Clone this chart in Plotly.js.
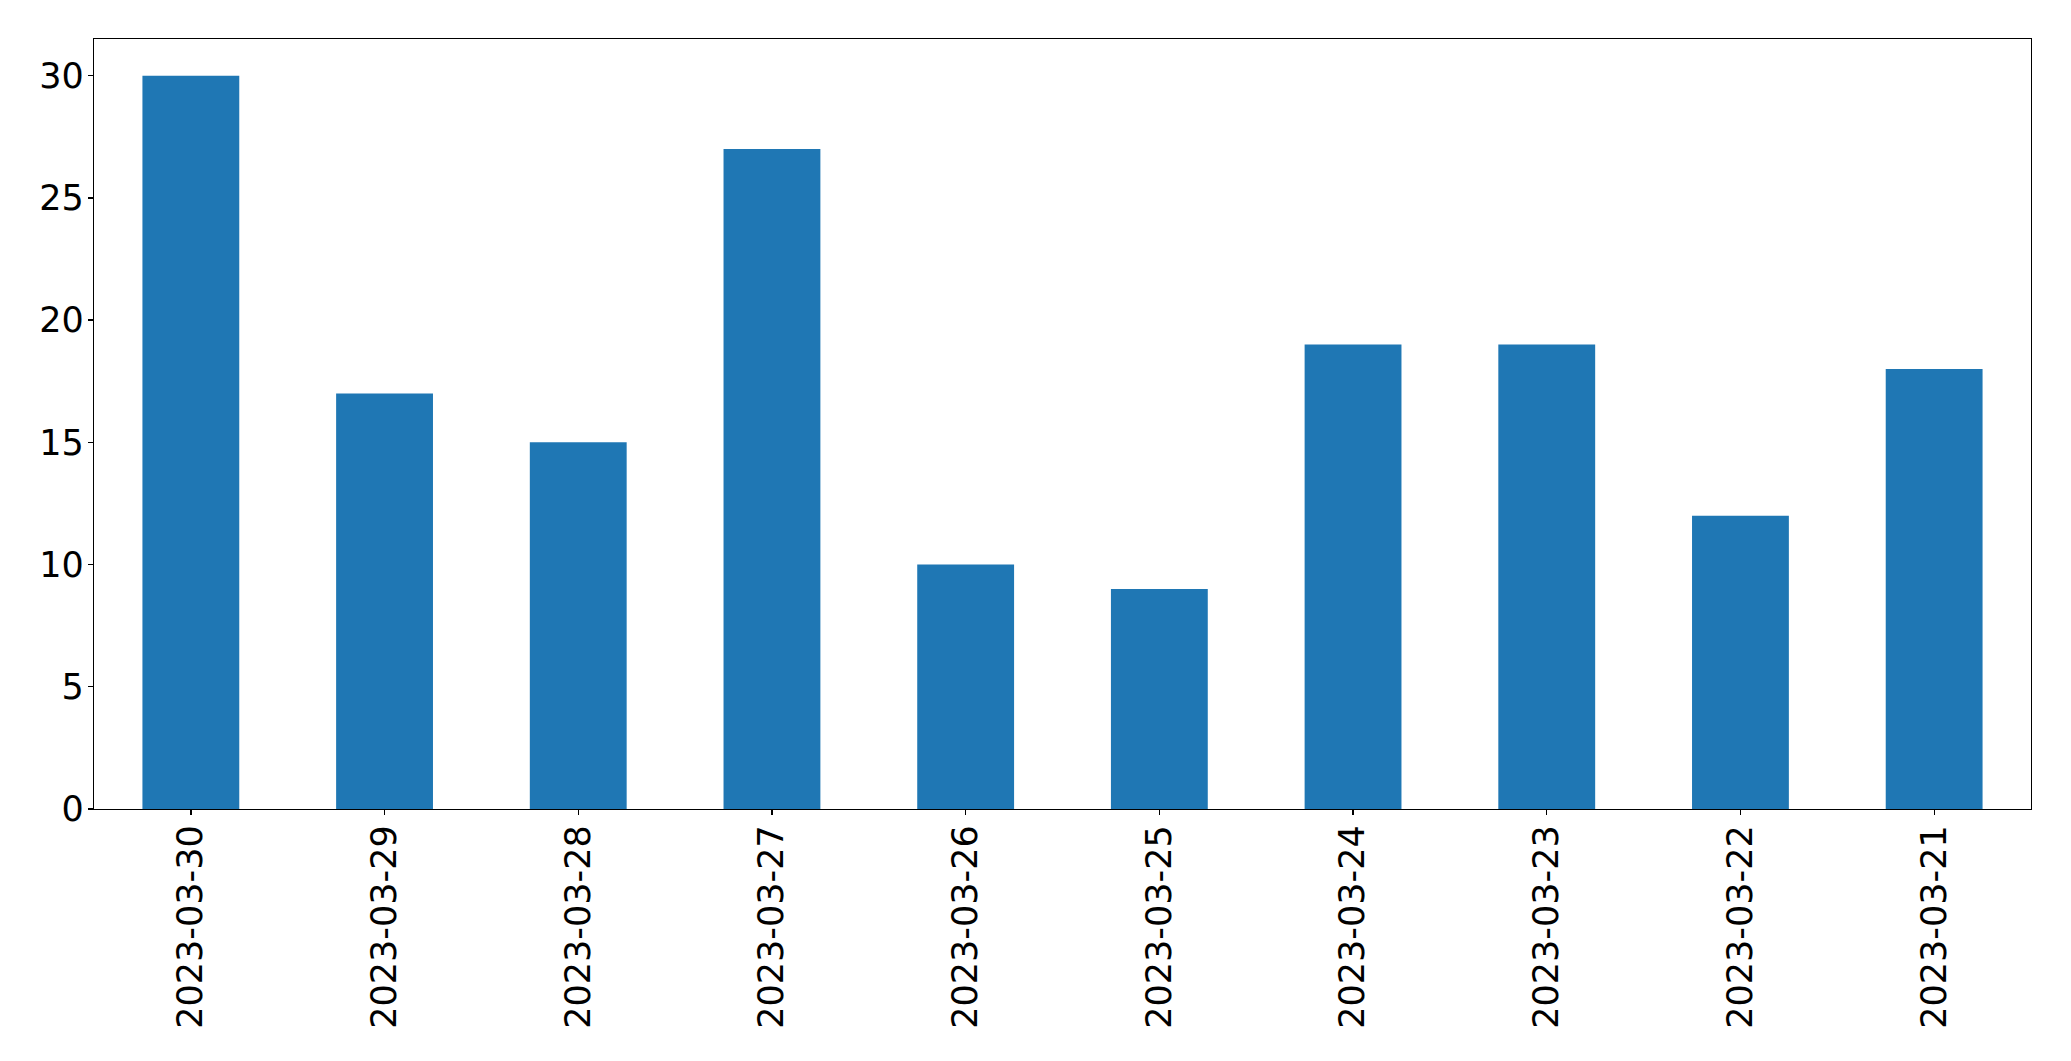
<!DOCTYPE html>
<html>
<head>
<meta charset="utf-8">
<script src="https://cdn.plot.ly/plotly-3.0.1.min.js"></script>
<style>html,body{margin:0;padding:0;background:#fff;}#chart{width:2071px;height:1061px;}</style>
</head>
<body>
<div id="chart"></div>
<script>
const dates = ["2023-03-30","2023-03-29","2023-03-28","2023-03-27","2023-03-26","2023-03-25","2023-03-24","2023-03-23","2023-03-22","2023-03-21"];
const counts = [30, 17, 15, 27, 10, 9, 19, 19, 12, 18];
const yTicks = [0, 5, 10, 15, 20, 25, 30];

const font = {family: "DejaVu Sans", size: 35, color: "#000"};
Plotly.newPlot("chart", [{
  type: "bar",
  x: dates,
  y: counts,
  width: 0.5,
  marker: {color: "#1f77b4", line: {width: 0}},
  hoverinfo: "x+y"
}], {
  width: 2071, height: 1061,
  margin: {l: 94, r: 40, t: 39, b: 252, pad: 0},
  paper_bgcolor: "#fff", plot_bgcolor: "#fff",
  showlegend: false,
  font: font,
  xaxis: {
    type: "category",
    range: [-0.5, 9.5],
    tickangle: -90,
    ticks: "outside", ticklen: 5, tickwidth: 1.3, tickcolor: "#000",
    ticklabelstandoff: -4,
    showline: true, linecolor: "#000", linewidth: 1.3, mirror: true,
    showgrid: false, zeroline: false,
    tickfont: font
  },
  yaxis: {
    range: [0, 31.5],
    tickvals: yTicks,
    ticktext: yTicks.map(String),
    ticks: "outside", ticklen: 5, tickwidth: 1.3, tickcolor: "#000",
    ticklabelstandoff: -3,
    showline: true, linecolor: "#000", linewidth: 1.3, mirror: true,
    showgrid: false, zeroline: false,
    tickfont: font
  }
}, {displayModeBar: false, staticPlot: true});
</script>
</body>
</html>
